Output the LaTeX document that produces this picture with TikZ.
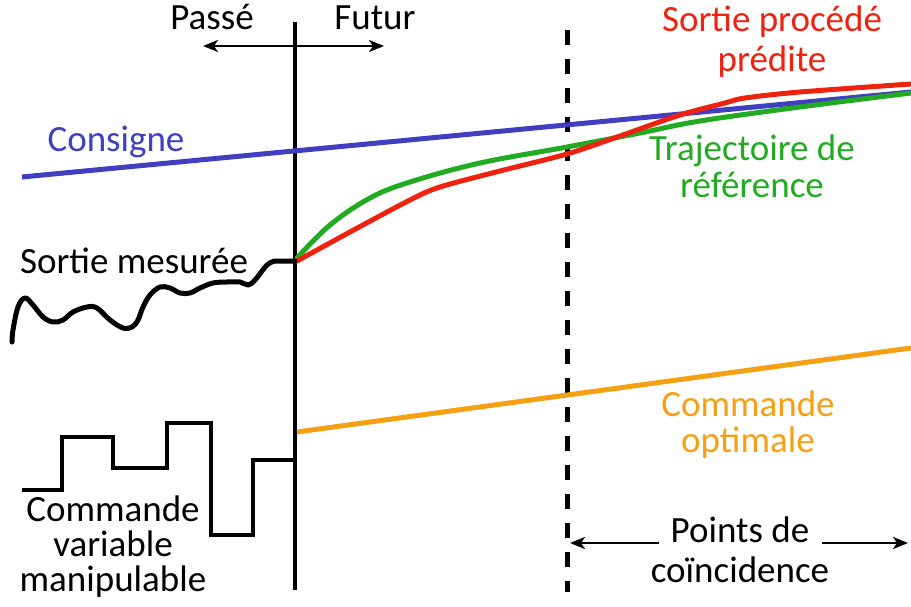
\documentclass[tikz,border=0pt]{standalone}
\usepackage{fontspec}
\setmainfont{Carlito}
\usetikzlibrary{arrows.meta}
\definecolor{cblue}{RGB}{63,63,191}
\definecolor{cred}{RGB}{238,34,17}
\definecolor{cgreen}{RGB}{34,170,34}
\definecolor{corange}{RGB}{245,160,20}
\begin{document}
\begin{tikzpicture}[x=1pt,y=-1pt,
  lbl/.style={font=\fontsize{37}{40}\selectfont, inner sep=0pt, align=center, anchor=base},
  curve/.style={line width=5pt, line join=round, line cap=round},
  thinarrow/.style={line width=2.2pt, -{Stealth[length=15pt,width=12pt,inset=4pt]}}]
\useasboundingbox (0,0) rectangle (911,607);
% axes
\coordinate (vtop) at (295,22);
\coordinate (vbot) at (295,590);
\draw[line width=4pt] (vtop) -- (vbot);
\coordinate (dtop) at (567,30);
\coordinate (dbot) at (567,592);
\draw[line width=5pt, dash pattern=on 15pt off 14pt] (dtop) -- (dbot);
% passe / futur
\coordinate (pA) at (203,46);
\coordinate (pB) at (384,46);
\draw[line width=2.2pt, {Stealth[length=15pt,width=12pt,inset=4pt]}-{Stealth[length=15pt,width=12pt,inset=4pt]}] (pA) -- (pB);
\node[lbl] (passe) at (212,30) {Passé};
\node[lbl] (futur) at (375,30) {Futur};
% consigne
\coordinate (c1) at (22,177);
\coordinate (c2) at (911,92);
\draw[curve, cblue, line cap=butt] (c1) -- (c2);
\node[lbl, text=cblue] (cons) at (116,152) {Consigne};
% orange
\coordinate (o1) at (297,432);
\coordinate (o2) at (911,348);
\draw[curve, corange, line cap=butt] (o1) -- (o2);
\node[lbl, font=\fontsize{37}{36}\selectfont, text=corange] (copt) at (748,452) {Commande\\optimale};
% green
\draw[curve, cgreen] plot[smooth, tension=0.6] coordinates {(297,258) (330,225) (370,198) (410,182) (480,163) (567,147) (640,133) (700,121) (800,107) (911,93)};
\node[lbl, font=\fontsize{37}{36}\selectfont, text=cgreen] (traj) at (752,197) {Trajectoire de\\référence};
% red
\draw[curve, cred] plot[smooth, tension=0.5] coordinates {(297,261) (350,232) (410,200) (440,187) (500,171) (567,154) (620,136) (680,115) (725,103) (745,98) (800,92) (911,84)};
\node[lbl, text=cred] (spred) at (772,72) {Sortie procédé\\prédite};
% measured output
\draw[curve] plot[smooth, tension=0.6] coordinates {(12,342) (13,330) (18,307) (25,298) (33,305) (43,317) (53,322) (63,320) (73,312) (87,307) (97,308) (110,320) (123,328) (132,327) (138,320) (143,307) (150,295) (160,287) (170,288) (180,293) (190,293) (200,288) (213,283) (227,282) (240,282) (248,285) (255,280) (267,265) (275,261)} -- (295,261);
\node[lbl] (smes) at (134,273) {Sortie mesurée};
% manipulated variable
\draw[line width=4pt, line join=miter] (22,490) -- (62,490) -- (62,437) -- (113,437) -- (113,468) -- (167,468) -- (167,423) -- (211,423) -- (211,535) -- (253,535) -- (253,460) -- (295,460);
\node[lbl, font=\fontsize{37}{35}\selectfont] (cvm) at (113,591) {Commande\\variable\\manipulable};
% points de coincidence
\node[lbl] (pc) at (740,582) {Points de\\coïncidence};
\coordinate (pcL) at (570,543);
\coordinate (pcR) at (908,543);
\coordinate (pcLs) at (659,543);
\coordinate (pcRs) at (822,543);
\draw[thinarrow] (pcLs) -- (pcL);
\draw[thinarrow] (pcRs) -- (pcR);
\end{tikzpicture}
\end{document}
